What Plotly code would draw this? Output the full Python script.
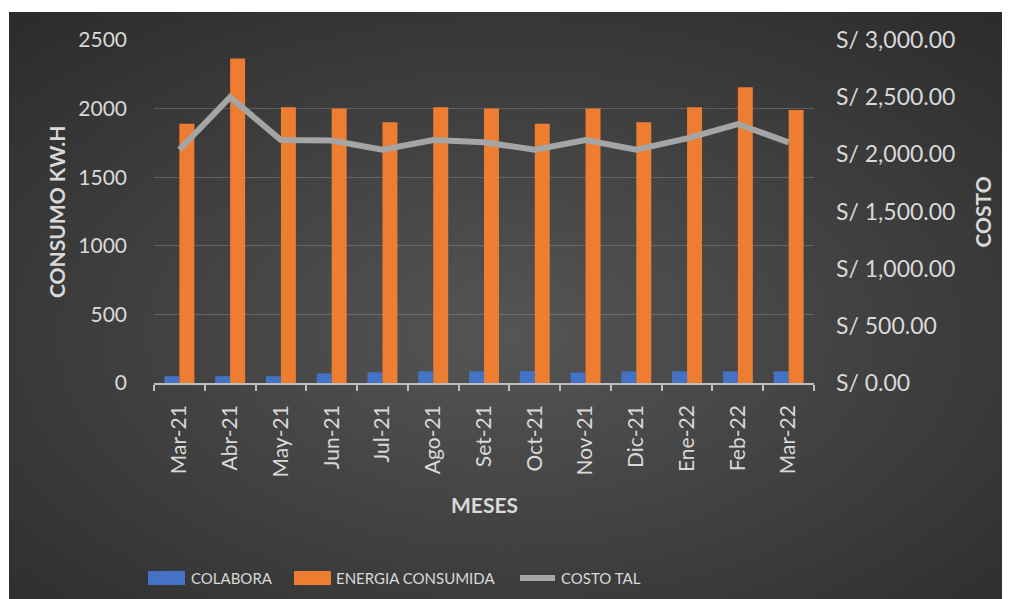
import base64
import plotly.graph_objects as go

meses = ["Mar-21", "Abr-21", "May-21", "Jun-21", "Jul-21", "Ago-21", "Set-21",
         "Oct-21", "Nov-21", "Dic-21", "Ene-22", "Feb-22", "Mar-22"]
colabora = [50, 50, 50, 70, 78, 85, 85, 87, 76, 85, 85, 85, 85]
energia = [1890, 2365, 2010, 2000, 1900, 2010, 2000, 1890, 2000, 1900, 2010, 2155, 1990]
costo = [2040, 2500, 2125, 2120, 2040, 2125, 2105, 2040, 2125, 2040, 2140, 2265, 2105]

# page offset (browser body margin)
OFF = 8
W, H = 1002, 591
ML, MT = 154 - OFF, 40 - OFF
PLOT_R, PLOT_B = 814 - OFF, 383 - OFF
MR, MB = W - PLOT_R, H - PLOT_B
PW = W - ML - MR
PH = H - MT - MB


def px_x(px):
    """page pixel x -> paper coordinate"""
    return (px - OFF - ML) / PW


def px_y(py):
    """page pixel y -> paper coordinate"""
    return (PLOT_B - (py - OFF)) / PH


TXT = "#D9D9D9"
FONT = "Lato, 'Open Sans', sans-serif"
BLUE = "#4472C4"
ORANGE = "#ED7D31"
GRAY = "#A5A5A5"

svg = (
    '<svg xmlns="http://www.w3.org/2000/svg" width="1001" height="587">'
    '<defs><radialGradient id="g" cx="0.5" cy="0.55" r="0.72">'
    '<stop offset="0" stop-color="#555555"/>'
    '<stop offset="1" stop-color="#2c2c2c"/>'
    '</radialGradient></defs>'
    '<rect width="1001" height="587" fill="url(#g)"/></svg>'
)
bg_uri = "data:image/svg+xml;base64," + base64.b64encode(svg.encode()).decode()

fig = go.Figure()
fig.add_trace(go.Bar(name="COLABORA", x=meses, y=colabora, marker_color=BLUE,
                     marker_line_width=0))
fig.add_trace(go.Bar(name="ENERGIA CONSUMIDA", x=meses, y=energia, marker_color=ORANGE,
                     marker_line_width=0))
fig.add_trace(go.Scatter(name="COSTO TAL", x=meses, y=costo, yaxis="y2", mode="lines",
                         line=dict(color=GRAY, width=6)))

fig.update_layout(
    width=W, height=H,
    margin=dict(l=ML, r=MR, t=MT, b=MB, autoexpand=False),
    paper_bgcolor="white",
    plot_bgcolor="rgba(0,0,0,0)",
    showlegend=False,
    barmode="group",
    bargap=0.41,
    bargroupgap=0,
    font=dict(family=FONT, color=TXT, size=21),
    images=[dict(source=bg_uri, xref="paper", yref="paper",
                 x=px_x(9), y=px_y(12), sizex=(1010 - 9) / PW, sizey=(599 - 12) / PH,
                 xanchor="left", yanchor="top", sizing="stretch", layer="below")],
    xaxis=dict(
        type="category",
        showline=True, linecolor="#BFBFBF", linewidth=1.5,
        ticks="outside", tickson="boundaries", ticklen=6, tickcolor="#BFBFBF",
        tickwidth=1.5,
        tickangle=-90,
        tickfont=dict(size=21, color=TXT, family=FONT),
        ticklabelstandoff=12,
        showgrid=False,
    ),
    yaxis=dict(
        range=[0, 2500], dtick=500,
        showgrid=True, gridcolor="rgba(217,217,217,0.22)", gridwidth=1,
        zeroline=False, showline=False, ticks="",
        tickfont=dict(size=21, color=TXT, family=FONT),
        ticklabelstandoff=26,
    ),
    yaxis2=dict(
        range=[0, 3000], dtick=500, overlaying="y", side="right",
        showgrid=False, zeroline=False, showline=False, ticks="",
        tickprefix="S/ ", tickformat=",.2f",
        tickfont=dict(size=23, color=TXT, family=FONT),
        ticklabelstandoff=21,
    ),
)

# axis titles
fig.add_annotation(text="<b>MESES</b>", xref="paper", yref="paper",
                   x=px_x(484), y=px_y(504.5), showarrow=False,
                   xanchor="center", yanchor="middle",
                   font=dict(size=21, color=TXT, family=FONT))
fig.add_annotation(text="<b>CONSUMO KW.H</b>", xref="paper", yref="paper",
                   x=px_x(56), y=px_y(212), showarrow=False, textangle=-90,
                   xanchor="center", yanchor="middle",
                   font=dict(size=21, color=TXT, family=FONT))
fig.add_annotation(text="<b>COSTO</b>", xref="paper", yref="paper",
                   x=px_x(982), y=px_y(212.5), showarrow=False, textangle=-90,
                   xanchor="center", yanchor="middle",
                   font=dict(size=21, color=TXT, family=FONT))

# legend (drawn manually to mimic wide swatches)
ly = 578
fig.add_shape(type="rect", xref="paper", yref="paper",
              x0=px_x(148), x1=px_x(185), y0=px_y(585), y1=px_y(571),
              fillcolor=BLUE, line_width=0)
fig.add_shape(type="rect", xref="paper", yref="paper",
              x0=px_x(294), x1=px_x(331), y0=px_y(585), y1=px_y(571),
              fillcolor=ORANGE, line_width=0)
fig.add_shape(type="line", xref="paper", yref="paper",
              x0=px_x(520), x1=px_x(555), y0=px_y(ly), y1=px_y(ly),
              line=dict(color=GRAY, width=6))
for name, x in [("COLABORA", 189), ("ENERGIA CONSUMIDA", 334), ("COSTO TAL", 559)]:
    fig.add_annotation(text=name, xref="paper", yref="paper", x=px_x(x), y=px_y(ly),
                       xanchor="left", yanchor="middle", showarrow=False,
                       font=dict(size=15, color=TXT, family=FONT))

fig.write_html("out.html")
